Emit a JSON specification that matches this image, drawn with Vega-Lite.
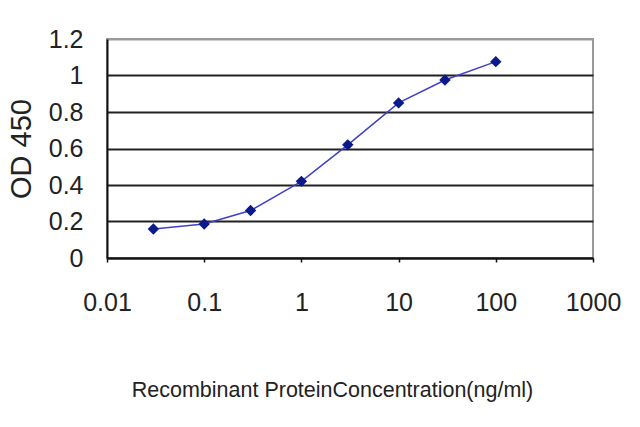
{
  "$schema": "https://vega.github.io/schema/vega-lite/v6.json",
  "width": 486,
  "height": 219,
  "autosize": "none",
  "padding": {"left": 107, "top": 39, "right": 47, "bottom": 169},
  "background": "white",
  "config": {
    "font": "Liberation Sans",
    "view": {"stroke": "#9a9a9a", "strokeWidth": 2}
  },
  "data": {
    "values": [
      {"conc": 0.03, "od": 0.159},
      {"conc": 0.1, "od": 0.186},
      {"conc": 0.3, "od": 0.26},
      {"conc": 1, "od": 0.42},
      {"conc": 3, "od": 0.62},
      {"conc": 10, "od": 0.85},
      {"conc": 30, "od": 0.975},
      {"conc": 100, "od": 1.076}
    ]
  },
  "encoding": {
    "x": {
      "field": "conc",
      "type": "quantitative",
      "scale": {"type": "log", "domain": [0.01, 1000], "nice": false},
      "axis": {
        "values": [0.01, 0.1, 1, 10, 100, 1000],
        "format": "~g",
        "grid": false,
        "labelFlush": false,
        "domainColor": "#111",
        "domainWidth": 2,
        "tickColor": "#111",
        "tickSize": 4,
        "tickWidth": 1.5,
        "labelFontSize": 25,
        "labelColor": "#222",
        "labelPadding": 28,
        "title": "Recombinant ProteinConcentration(ng/ml)",
        "titleFontSize": 21.5,
        "titleFontWeight": "normal",
        "titleColor": "#222",
        "titlePadding": 64,
        "titleX": 225
      }
    },
    "y": {
      "field": "od",
      "type": "quantitative",
      "scale": {"domain": [0, 1.2], "nice": false},
      "axis": {
        "values": [0, 0.2, 0.4, 0.6, 0.8, 1, 1.2],
        "format": "~g",
        "grid": true,
        "gridColor": {"condition": {"test": "datum.value >= 1.2", "value": "#9a9a9a"}, "value": "#222"},
        "gridWidth": 2,
        "domainColor": "#111",
        "domainWidth": 2,
        "ticks": false,
        "labelFontSize": 25,
        "labelColor": "#222",
        "labelPadding": 24,
        "title": "OD 450",
        "titleFontSize": 29,
        "titleFontWeight": "normal",
        "titleColor": "#222",
        "titlePadding": 12
      }
    }
  },
  "layer": [
    {"mark": {"type": "line", "color": "#4040c8", "strokeWidth": 1.5}},
    {"mark": {"type": "point", "shape": "diamond", "filled": true, "size": 130, "color": "#0a1a8a", "opacity": 1}}
  ]
}
